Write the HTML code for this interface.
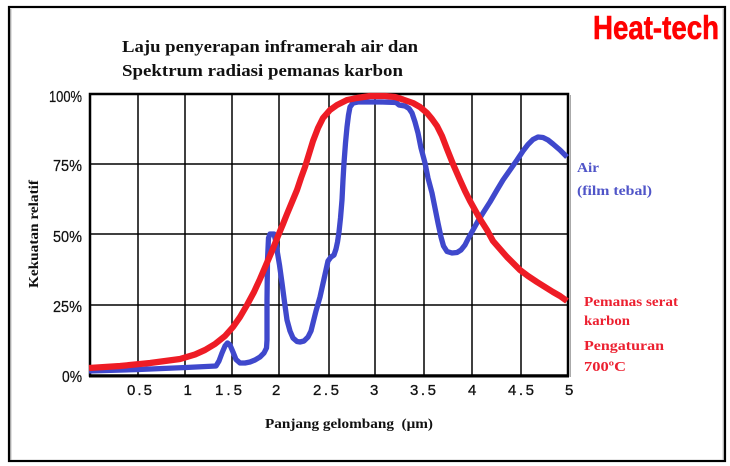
<!DOCTYPE html>
<html><head><meta charset="utf-8">
<style>
html,body{margin:0;padding:0;background:#fff;}
svg{display:block;}
</style></head>
<body>
<svg width="730" height="466" viewBox="0 0 730 466" xmlns="http://www.w3.org/2000/svg">
<rect x="0" y="0" width="730" height="466" fill="#fff"/>
<!-- outer frame -->
<rect x="9" y="7" width="716" height="454" fill="none" stroke="#000" stroke-width="2.2"/>
<line x1="10.8" y1="9" x2="10.8" y2="460" stroke="#999" stroke-width="1"/>
<line x1="723.2" y1="9" x2="723.2" y2="460" stroke="#aaa" stroke-width="1"/>

<!-- Heat-tech -->
<text x="593" y="39" font-family="Liberation Sans, Arial, sans-serif" font-weight="bold" font-size="33" fill="#ff0000" stroke="#ff0000" stroke-width="0.6" textLength="126" lengthAdjust="spacingAndGlyphs">Heat-tech</text>

<!-- title -->
<text x="122" y="52" font-family="Liberation Serif, serif" font-weight="bold" font-size="17" fill="#111" textLength="296" lengthAdjust="spacingAndGlyphs">Laju penyerapan inframerah air dan</text>
<text x="122" y="76" font-family="Liberation Serif, serif" font-weight="bold" font-size="17" fill="#111" textLength="281" lengthAdjust="spacingAndGlyphs">Spektrum radiasi pemanas karbon</text>

<!-- grid -->
<g stroke="#000" stroke-width="1.5">
<line x1="138" y1="94" x2="138" y2="375"/>
<line x1="185" y1="94" x2="185" y2="375"/>
<line x1="232" y1="94" x2="232" y2="375"/>
<line x1="279" y1="94" x2="279" y2="375"/>
<line x1="329" y1="94" x2="329" y2="375"/>
<line x1="375" y1="94" x2="375" y2="375"/>
<line x1="424" y1="94" x2="424" y2="375"/>
<line x1="472" y1="94" x2="472" y2="375"/>
<line x1="521" y1="94" x2="521" y2="375"/>
<line x1="90" y1="164" x2="568" y2="164"/>
<line x1="90" y1="234" x2="568" y2="234"/>
<line x1="90" y1="305" x2="568" y2="305"/>
</g>
<rect x="90" y="94" width="478" height="281.5" fill="none" stroke="#000" stroke-width="2.5"/>
<line x1="89" y1="376" x2="569" y2="376" stroke="#000" stroke-width="3"/>
<line x1="570.5" y1="95" x2="570.5" y2="377" stroke="#aaa" stroke-width="1"/>

<!-- blue series -->
<polyline fill="none" stroke="#3f48cc" stroke-width="5.3" stroke-linejoin="round" stroke-linecap="butt"
points="89,371 139,369.5 186,367.5 216,366 219,361 222,353 225,346 227.5,343 230,345 233,352 236,359.5 240,363 245,363 250,362 255,360 260,357 264,353 266.5,348 267,340 267,300 267.5,260 268.5,238 270,234 274,234 276,242 277,250 279.5,265 282,283 284.5,302 287,320 290,331 293,338 297,341.5 300,342 304,341 308,337 311,331 313,323 316,311 320,297 324,279 328,261 331,257 334,255 336,249 337.5,242 339,232 340.5,218 342,200 343,180 344,163 345.5,143 347,127 348.5,115 350,107 353,103 358,102 380,102 396,102.5 399,105 405,106 409,108.5 412,113 415,122 418,133 421,148 425,163 428,178 432,193 435,208 438,223 441,237 443.5,246 447,251.5 452,253 457,252.5 461,250 465,245 468,239 473,230 478,221 483,213 490,202 497,190 503,180 510,170 517,160 523,151 528,144.5 533,139.5 538,137 543,137.5 548,140 553,144 560,150 567,157"/>

<!-- red series -->
<polyline fill="none" stroke="#ee1c25" stroke-width="6.2" stroke-linejoin="round" stroke-linecap="butt"
points="89,368 120,366 150,363 180,359 195,354.5 205,350 215,344 225,336 233,327 240,317 247,305 254,292 260,279 266,265 272,251 278,236 283,224 287,214 292,202 297,190 301,178 305,167 309,154 313,141 318,128 323,118 330,110 337,105 347,100 357,98 370,96 385,96 395,97 403,99.5 413,103 420,107 427,113 432,119 437,126 442,136 447,149 453,164 460,180 465,191 470,201 475,210 480,219 487,230 493,241 500,249 507,257 514,264 520,270 528,276 537,282 545,287 553,292 560,296 567,301"/>

<!-- y tick labels -->
<g font-family="Liberation Sans, Arial, sans-serif" font-size="16" fill="#111" stroke="#111" stroke-width="0.25" text-anchor="end">
<text x="82" y="102" textLength="33" lengthAdjust="spacingAndGlyphs">100%</text>
<text x="82" y="171" textLength="29" lengthAdjust="spacingAndGlyphs">75%</text>
<text x="82" y="242" textLength="29" lengthAdjust="spacingAndGlyphs">50%</text>
<text x="82" y="312" textLength="29" lengthAdjust="spacingAndGlyphs">25%</text>
<text x="82" y="382" textLength="20" lengthAdjust="spacingAndGlyphs">0%</text>
</g>

<!-- x tick labels -->
<g font-family="Liberation Sans, Arial, sans-serif" font-size="15" fill="#111" stroke="#111" stroke-width="0.3">
<text x="127" y="395" textLength="25" lengthAdjust="spacing">0.5</text>
<text x="183.5" y="395">1</text>
<text x="215" y="395" textLength="27" lengthAdjust="spacing">1.5</text>
<text x="272" y="395">2</text>
<text x="313" y="395" textLength="26" lengthAdjust="spacing">2.5</text>
<text x="370" y="395">3</text>
<text x="410" y="395" textLength="26" lengthAdjust="spacing">3.5</text>
<text x="468" y="395">4</text>
<text x="508" y="395" textLength="26" lengthAdjust="spacing">4.5</text>
<text x="565" y="395">5</text>
</g>

<!-- axis labels -->
<text transform="translate(38,234) rotate(-90)" text-anchor="middle" font-family="Liberation Serif, serif" font-weight="bold" font-size="14" fill="#111" textLength="108" lengthAdjust="spacingAndGlyphs">Kekuatan relatif</text>
<text x="265" y="428" font-family="Liberation Serif, serif" font-weight="bold" font-size="14" fill="#111" textLength="168" lengthAdjust="spacingAndGlyphs" xml:space="preserve">Panjang gelombang  (μm)</text>

<!-- series labels -->
<g font-family="Liberation Serif, serif" font-weight="bold" font-size="14">
<text x="577" y="172" fill="#5055c8" textLength="22" lengthAdjust="spacingAndGlyphs">Air</text>
<text x="577" y="195" fill="#5055c8" textLength="75" lengthAdjust="spacingAndGlyphs">(film tebal)</text>
<text x="584" y="306" fill="#ec2030" textLength="94" lengthAdjust="spacingAndGlyphs">Pemanas serat</text>
<text x="584" y="325" fill="#ec2030" textLength="46" lengthAdjust="spacingAndGlyphs">karbon</text>
<text x="584" y="350" fill="#ec2030" textLength="80" lengthAdjust="spacingAndGlyphs">Pengaturan</text>
<text x="584" y="371" fill="#ec2030" textLength="42" lengthAdjust="spacingAndGlyphs">700ºC</text>
</g>
</svg>
</body></html>
